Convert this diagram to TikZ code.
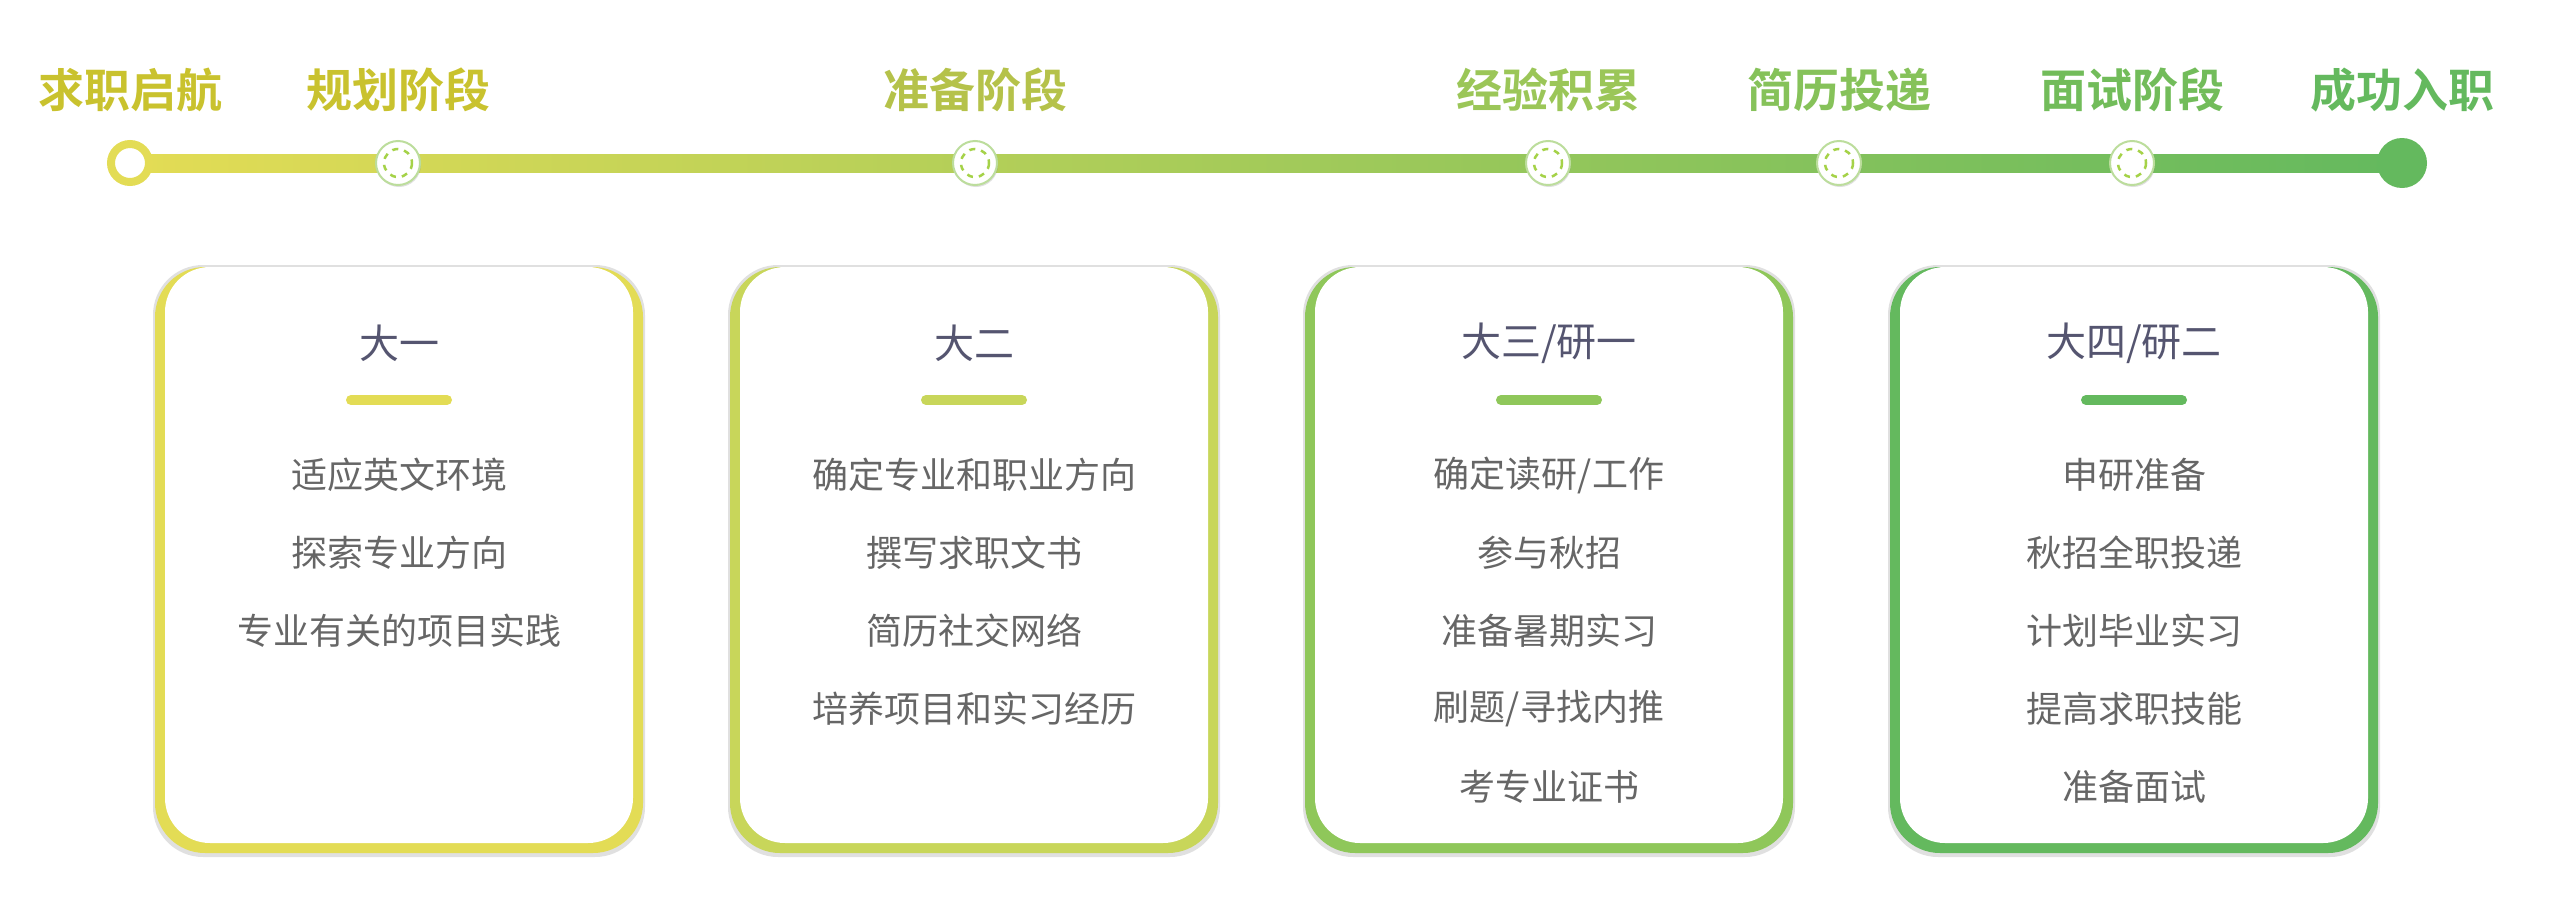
\documentclass[tikz,border=0pt]{standalone}
\usepackage{fontspec}
\newfontfamily\cjk{Noto Sans CJK SC}
\newfontfamily\cjkb{Noto Sans CJK SC Bold}
\usetikzlibrary{shadows}
\definecolor{c1}{HTML}{E3DC55}
\definecolor{c2}{HTML}{C8D65A}
\definecolor{c3}{HTML}{8FC75A}
\definecolor{c4}{HTML}{64B95E}
\definecolor{tl1}{HTML}{C9C22E}
\definecolor{tl2}{HTML}{B5C24A}
\definecolor{tl3}{HTML}{9BC658}
\definecolor{tl4}{HTML}{86C25A}
\definecolor{tl5}{HTML}{72BC5A}
\definecolor{ttl}{HTML}{555570}
\definecolor{itm}{HTML}{666666}
\tikzset{
  phase/.style={font=\cjkb\fontsize{46}{50}\selectfont, anchor=center},
  milestone/.style={circle, draw=c3!60, line width=2pt, fill=white, minimum size=44pt, inner sep=0pt, drop shadow={opacity=0.25, shadow xshift=1pt, shadow yshift=-2pt}},
  ctitle/.style={font=\cjk\fontsize{40}{44}\selectfont, text=ttl},
  citem/.style={font=\cjk\fontsize{36}{40}\selectfont, text=itm},
}
\begin{document}
\begin{tikzpicture}[x=1pt,y=-1pt]
\useasboundingbox (0,0) rectangle (2560,916);
% line
\shade[left color=c1, right color=c4] (130,154) rectangle (2402,172);
\node[circle, draw=c1, line width=8pt, fill=white, minimum size=38pt, inner sep=0pt] (start) at (130,163) {};
\node[circle, fill=c4, minimum size=50pt, inner sep=0pt] (end) at (2402,163) {};
\foreach \n/\x in {m1/398, m2/975, m3/1548, m4/1839, m5/2132}{
  \node[milestone] (\n) at (\x,163) {};
  \draw[c3!80!yellow, line width=2.5pt, dash pattern=on 6pt off 6pt] (\x,163) circle (14);
}
% phase labels
\node[phase, text=tl1] (p0) at (130,90) {求职启航};
\node[phase, text=tl1] (p1) at (398,90) {规划阶段};
\node[phase, text=tl2] (p2) at (975,90) {准备阶段};
\node[phase, text=tl3] (p3) at (1548,90) {经验积累};
\node[phase, text=tl4] (p4) at (1839,90) {简历投递};
\node[phase, text=tl5] (p5) at (2132,90) {面试阶段};
\node[phase, text=c4] (p6) at (2402,90) {成功入职};
% cards
\foreach \xl/\col/\nm in {155/c1/k1, 730/c2/k2, 1305/c3/k3, 1890/c4/k4}{
  \fill[black!12] (\xl-2,265) [rounded corners=50pt] rectangle (\xl+490,857);
  \fill[\col] (\xl,267) [rounded corners=50pt] rectangle (\xl+488,853);
  \fill[white] (\xl+10,267) [rounded corners=45pt] rectangle (\xl+478,843);
  \draw[\col, line width=10pt, line cap=round] (\xl+196,400) -- (\xl+292,400);
}
\node[ctitle] (t1) at (399,343) {大一};
\node[ctitle] (t2) at (974,343) {大二};
\node[ctitle] (t3) at (1549,343) {大三/研一};
\node[ctitle] (t4) at (2134,343) {大四/研二};
\foreach \t [count=\i] in {适应英文环境, 探索专业方向, 专业有关的项目实践}
  \node[citem] (a\i) at (399,397+78*\i) {\t};
\foreach \t [count=\i] in {确定专业和职业方向, 撰写求职文书, 简历社交网络, 培养项目和实习经历}
  \node[citem] (b\i) at (974,397+78*\i) {\t};
\foreach \t [count=\i] in {确定读研/工作, 参与秋招, 准备暑期实习, 刷题/寻找内推, 考专业证书}
  \node[citem] (c\i) at (1549,397+78*\i) {\t};
\foreach \t [count=\i] in {申研准备, 秋招全职投递, 计划毕业实习, 提高求职技能, 准备面试}
  \node[citem] (d\i) at (2134,397+78*\i) {\t};
\end{tikzpicture}
\end{document}
